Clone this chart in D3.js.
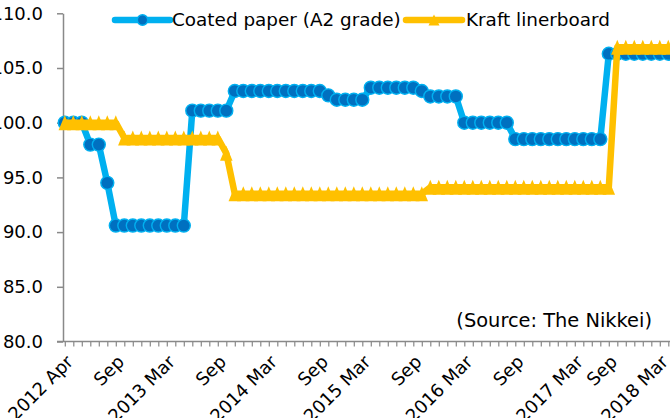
<!DOCTYPE html>
<html>
<head>
<meta charset="utf-8">
<script src="https://cdn.jsdelivr.net/npm/d3@7/dist/d3.min.js"></script>
<style>
  html, body { margin: 0; padding: 0; background: #fff; overflow: hidden; }
  text { font-family: "DejaVu Sans", Verdana, sans-serif; fill: #000; }
</style>
</head>
<body>
<svg id="chart" width="670" height="418"></svg>
<script>
// Monthly price index, April 2012 to March 2018 (72 months)
const coated = [
  100.0, 100.0, 100.0, 98.0, 98.0, 94.5,
  90.6, 90.6, 90.6, 90.6, 90.6, 90.6, 90.6, 90.6, 90.6,
  101.1, 101.1, 101.1, 101.1, 101.1,
  102.9, 102.9, 102.9, 102.9, 102.9, 102.9, 102.9, 102.9, 102.9, 102.9, 102.9,
  102.5,
  102.1, 102.1, 102.1, 102.1,
  103.2, 103.2, 103.2, 103.2, 103.2, 103.2,
  102.9,
  102.4, 102.4, 102.4, 102.4,
  100.0, 100.0, 100.0, 100.0, 100.0, 100.0,
  98.5, 98.5, 98.5, 98.5, 98.5, 98.5, 98.5, 98.5, 98.5, 98.5, 98.5,
  106.3, 106.3, 106.3, 106.3, 106.3, 106.3, 106.3, 106.3
];
const kraft = [
  100.0, 100.0, 100.0, 100.0, 100.0, 100.0, 100.0,
  98.6, 98.6, 98.6, 98.6, 98.6, 98.6, 98.6, 98.6, 98.6, 98.6, 98.6, 98.6,
  97.2,
  93.5, 93.5, 93.5, 93.5, 93.5, 93.5, 93.5, 93.5, 93.5, 93.5, 93.5, 93.5,
  93.5, 93.5, 93.5, 93.5, 93.5, 93.5, 93.5, 93.5, 93.5, 93.5, 93.5,
  94.1, 94.1, 94.1, 94.1, 94.1, 94.1, 94.1, 94.1, 94.1, 94.1, 94.1,
  94.1, 94.1, 94.1, 94.1, 94.1, 94.1, 94.1, 94.1, 94.1, 94.1, 94.1,
  106.9, 106.9, 106.9, 106.9, 106.9, 106.9, 106.9
];
const seriesNames = ["Coated paper (A2 grade)", "Kraft linerboard"];
const yTicks = [80, 85, 90, 95, 100, 105, 110];
// category positions that carry a label on the time axis
const labelIndex = [0, 6, 12, 18, 24, 30, 35, 41, 47, 53, 60, 64, 70];
const labelText = ["2012 Apr", "Sep", "2013 Mar", "Sep", "2014 Mar", "Sep", "2015 Mar",
                   "Sep", "2016 Mar", "Sep", "2017 Mar", "Sep", "2018 Mar"];
const sourceNote = "(Source: The Nikkei)";

const BLUE = "#00B0F0", BLUE_DARK = "#0070C0", GOLD = "#FFC000", AXIS = "#898989";

const svg = d3.select("#chart");
const plotLeft = 63, plotRight = 672;

const x = d3.scalePoint()
  .domain(d3.range(coated.length))
  .range([64.8, 668.3]);
const y = d3.scaleLinear().domain([80, 110]).range([341.5, 13.3]);

// y axis
const yAxis = svg.append("g")
  .attr("transform", `translate(${plotLeft},0)`)
  .call(d3.axisLeft(y).tickValues(yTicks).tickFormat(d3.format(".1f"))
    .tickSize(6).tickSizeOuter(0).tickPadding(14));
yAxis.select(".domain").attr("stroke", AXIS).attr("stroke-width", 1.5);
yAxis.selectAll(".tick line").attr("stroke", AXIS).attr("stroke-width", 1.5);
yAxis.selectAll(".tick text").attr("font-size", 18).attr("fill", "#000")
  .style("font-family", '"DejaVu Sans", Verdana, sans-serif');

// x axis: small tick at every month
const xAxis = svg.append("g")
  .attr("transform", `translate(0,${y(80)})`)
  .call(d3.axisBottom(x).tickSize(5).tickSizeOuter(0).tickFormat(""));
xAxis.select(".domain").remove();
xAxis.selectAll(".tick line").attr("stroke", AXIS).attr("stroke-width", 1.2);
xAxis.append("line")
  .attr("x1", plotLeft - 6).attr("x2", plotRight)
  .attr("y1", 0).attr("y2", 0)
  .attr("stroke", AXIS).attr("stroke-width", 1.5);

// rotated month labels
svg.append("g").selectAll("text")
  .data(labelIndex)
  .join("text")
  .attr("transform", d => `translate(${x(d) + 5},${y(80) + 17}) rotate(-45)`)
  .attr("text-anchor", "end")
  .attr("dy", "0.35em")
  .attr("font-size", 18)
  .text((d, i) => labelText[i]);

// source note
svg.append("text")
  .attr("x", 652).attr("y", 327)
  .attr("text-anchor", "end")
  .attr("font-size", 19.4)
  .text(sourceNote);

const line = d3.line().x((d, i) => x(i)).y(d => y(d));

// triangle marker, centred on its bounding box
const tri = (cx, cy, h, w) =>
  `M${cx},${cy - h / 2}L${cx + w / 2},${cy + h / 2}L${cx - w / 2},${cy + h / 2}Z`;

// coated paper series
svg.append("path").datum(coated)
  .attr("d", line).attr("fill", "none")
  .attr("stroke", BLUE).attr("stroke-width", 6.5).attr("stroke-linejoin", "round");
svg.append("g").selectAll("circle")
  .data(coated).join("circle")
  .attr("cx", (d, i) => x(i)).attr("cy", d => y(d)).attr("r", 6.5)
  .attr("fill", BLUE_DARK).attr("stroke", BLUE).attr("stroke-width", 1.4);

// kraft linerboard series
svg.append("path").datum(kraft)
  .attr("d", line).attr("fill", "none")
  .attr("stroke", GOLD).attr("stroke-width", 6.5).attr("stroke-linejoin", "round");
svg.append("g").selectAll("path")
  .data(kraft).join("path")
  .attr("d", (d, i) => tri(x(i), y(d), 15, 12.5))
  .attr("fill", GOLD);

// legend
const lg = svg.append("g");
lg.append("line").attr("x1", 115).attr("x2", 170).attr("y1", 20).attr("y2", 20)
  .attr("stroke", BLUE).attr("stroke-width", 6.5).attr("stroke-linecap", "round");
lg.append("circle").attr("cx", 142.5).attr("cy", 20).attr("r", 5.2)
  .attr("fill", BLUE_DARK).attr("stroke", BLUE).attr("stroke-width", 1.5);
lg.append("text").attr("x", 172).attr("y", 20).attr("dy", "0.35em")
  .attr("font-size", 18.4).text(seriesNames[0]);
lg.append("line").attr("x1", 406).attr("x2", 462).attr("y1", 20).attr("y2", 20)
  .attr("stroke", GOLD).attr("stroke-width", 6.5).attr("stroke-linecap", "round");
lg.append("path").attr("d", tri(434, 20, 11, 11)).attr("fill", GOLD);
lg.append("text").attr("x", 466).attr("y", 20).attr("dy", "0.35em")
  .attr("font-size", 18.4).text(seriesNames[1]);
</script>
</body>
</html>
